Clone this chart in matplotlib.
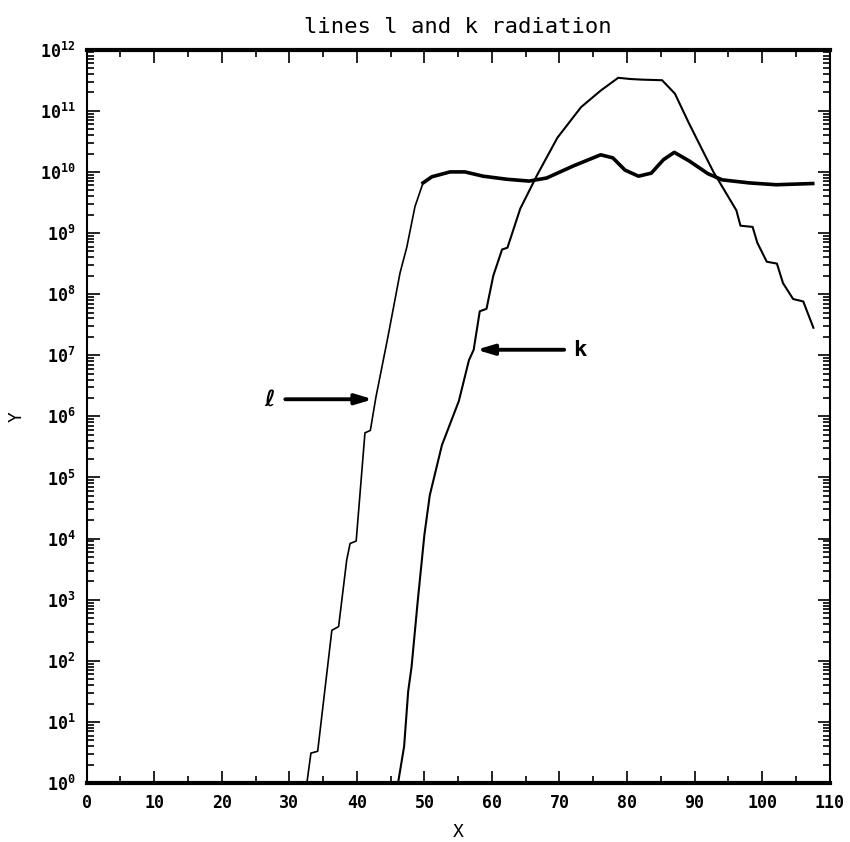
import numpy as np
import matplotlib
matplotlib.use('Agg')
import matplotlib.pyplot as plt
from matplotlib.ticker import LogLocator, MultipleLocator, LogFormatterMathtext, NullFormatter

# values: x and log10(y)
l_x = [32.4, 32.6, 33.2, 34.2, 36.3, 37.3, 38.5, 39.0, 39.9, 41.2, 42.0, 42.8,
       44.6, 46.4, 47.4, 48.6, 49.8, 51.1, 53.8, 56.0, 58.7, 62.2, 65.5, 68.1,
       72.1, 76.1, 77.9, 79.7, 81.7, 83.6, 85.4, 87.0, 89.2, 92.0, 94.1, 98.1,
       102.1, 107.5]
l_log10 = [-0.3, 0.0, 0.49, 0.52, 2.50, 2.56, 3.65, 3.92, 3.96, 5.73, 5.77, 6.30,
           7.30, 8.35, 8.77, 9.43, 9.82, 9.92, 10.0, 10.0, 9.93, 9.88, 9.85, 9.90,
           10.1, 10.28, 10.23, 10.03, 9.93, 9.98, 10.2, 10.32, 10.18, 9.97, 9.87, 9.82,
           9.79, 9.81]

k_x = [45.9, 46.1, 47.0, 47.6, 48.1, 49.0, 50.0, 50.8, 52.6, 55.1, 56.6, 57.3,
       58.2, 59.2, 60.2, 61.5, 62.3, 64.2, 66.7, 69.7, 73.2, 76.1, 78.7, 80.5,
       82.2, 85.2, 87.1, 89.2, 91.2, 92.8, 96.2, 96.8, 98.6, 99.3, 100.7, 102.2,
       103.1, 104.6, 106.1, 107.6]
k_log10 = [-0.2, 0.0, 0.6, 1.5, 1.9, 2.96, 4.06, 4.71, 5.53, 6.25, 6.92, 7.09,
           7.72, 7.76, 8.30, 8.73, 8.76, 9.40, 9.95, 10.56, 11.06, 11.33, 11.54, 11.52,
           11.51, 11.50, 11.28, 10.79, 10.35, 10.0, 9.37, 9.12, 9.10, 8.84, 8.53, 8.50,
           8.18, 7.92, 7.88, 7.45]

x_ticks = [0, 10, 20, 30, 40, 50, 60, 70, 80, 90, 100, 110]
y_decades = [0, 1, 2, 3, 4, 5, 6, 7, 8, 9, 10, 11, 12]

plt.rcParams['font.family'] = ['DejaVu Sans Mono', 'DejaVu Sans']
plt.rcParams['font.weight'] = 'bold'
plt.rcParams['mathtext.default'] = 'regular'

fig = plt.figure(figsize=(8.5, 8.42), dpi=100)
ax = fig.add_axes([0.102, 0.070, 0.874, 0.871])

lx = np.array(l_x)
ly = 10 ** np.array(l_log10)
kx = np.array(k_x)
ky = 10 ** np.array(k_log10)

ax.plot(lx, ly, color='black', linewidth=1.2)
top = lx >= 49.8
ax.plot(lx[top], ly[top], color='black', linewidth=2.6)
ax.plot(kx, ky, color='black', linewidth=1.5)

ax.set_yscale('log')
ax.set_xlim(0, 110)
ax.set_ylim(1, 1e12)

ax.set_xticks(x_ticks)
ax.xaxis.set_minor_locator(MultipleLocator(5))
ax.set_yticks([10.0 ** d for d in y_decades])
ax.yaxis.set_minor_locator(LogLocator(base=10, subs=np.arange(2, 10), numticks=200))
ax.yaxis.set_major_formatter(LogFormatterMathtext())
ax.yaxis.set_minor_formatter(NullFormatter())

ax.tick_params(which='both', direction='in', top=True, right=True, width=1.2)
ax.tick_params(which='major', length=9, labelsize=12, pad=8)
ax.tick_params(which='minor', length=5)
for s in ['top', 'bottom']:
    ax.spines[s].set_linewidth(3)
for s in ['left', 'right']:
    ax.spines[s].set_linewidth(1.5)

ax.set_title('lines l and k radiation', fontsize=16, pad=12)
ax.set_xlabel('X', fontsize=13, labelpad=8)
ax.set_ylabel('Y', fontsize=13, labelpad=10)

arrow = dict(arrowstyle='-|>,head_length=1.0,head_width=0.3', color='black', lw=2.8)
ax.annotate('', xy=(42.8, 10 ** 6.28), xytext=(29.0, 10 ** 6.28), arrowprops=arrow)
ax.text(27.1, 10 ** 6.28, 'ℓ', fontsize=16, ha='center', va='center',
        family=['DejaVu Sans', 'DejaVu Sans Mono'])
ax.annotate('', xy=(57.3, 10 ** 7.09), xytext=(71.1, 10 ** 7.09), arrowprops=arrow)
ax.text(73.0, 10 ** 7.09, 'k', fontsize=16, ha='center', va='center')

fig.savefig('out.png', dpi=100)
